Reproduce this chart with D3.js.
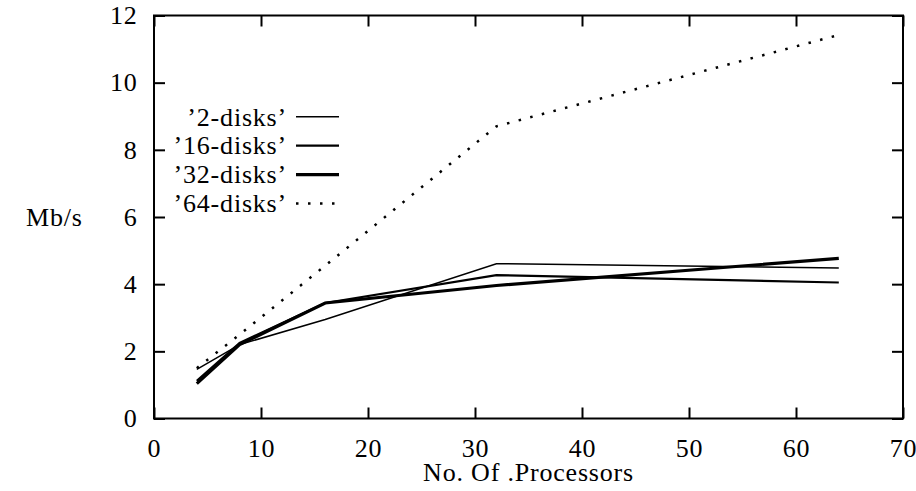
<!DOCTYPE html>
<html>
<head>
<meta charset="utf-8">
<script src="https://cdn.jsdelivr.net/npm/d3@7"></script>
<style>
  body { margin: 0; background: #fff; }
  text { font-family: "Liberation Serif", serif; font-size: 26px; letter-spacing: 0.8px; fill: #000; }
</style>
</head>
<body>
<div id="chart"></div>
<script>

// values
var processors = [4, 8, 16, 32, 64];
var disks2  = [1.46, 2.2, 2.95, 4.61, 4.48];
var disks16 = [1.12, 2.25, 3.44, 4.27, 4.05];
var disks32 = [1.04, 2.2, 3.44, 3.96, 4.77];
var disks64 = [1.5, 2.5, 4.55, 8.7, 11.42];

var seriesNames = ["\u20192-disks\u2019", "\u201916-disks\u2019", "\u201932-disks\u2019", "\u201964-disks\u2019"];
var xTicks = [0, 10, 20, 30, 40, 50, 60, 70];
var yTicks = [0, 2, 4, 6, 8, 10, 12];

var svgWidth = 916,
    svgHeight = 491;

var svg = d3.select("#chart").append("svg")
  .attr("width", svgWidth)
  .attr("height", svgHeight);

svg.append("rect")
  .attr("width", svgWidth)
  .attr("height", svgHeight)
  .attr("fill", "#fff");

// plot box (note: "top" is taken by window.top, so prefix these)
var plotLeft = 154, plotRight = 903, plotTop = 15.5, plotBottom = 418.5;

var x = d3.scaleLinear().domain([0, 70]).range([plotLeft, plotRight]);
var y = d3.scaleLinear().domain([0, 12]).range([plotBottom, plotTop]);

var tickLen = 11;

// ticks point inwards on all four sides, like gnuplot
svg.append("g")
  .attr("transform", "translate(0," + plotBottom + ")")
  .call(d3.axisBottom(x).tickValues(xTicks).tickSizeInner(-tickLen).tickSizeOuter(0).tickPadding(20.5));

svg.append("g")
  .attr("transform", "translate(" + plotLeft + ",0)")
  .call(d3.axisLeft(y).tickValues(yTicks).tickSizeInner(-tickLen).tickSizeOuter(0).tickPadding(16.5));

svg.append("g")
  .attr("transform", "translate(0," + plotTop + ")")
  .call(d3.axisTop(x).tickValues(xTicks).tickSizeInner(-tickLen).tickSizeOuter(0).tickFormat(""));

svg.append("g")
  .attr("transform", "translate(" + plotRight + ",0)")
  .call(d3.axisRight(y).tickValues(yTicks).tickSizeInner(-tickLen).tickSizeOuter(0).tickFormat(""));

svg.selectAll(".domain").remove();
svg.selectAll(".tick line").attr("stroke", "#000").attr("stroke-width", 2);
svg.selectAll(".tick text")
  .style("font-family", "Liberation Serif, serif")
  .style("font-size", "26px")
  .attr("fill", "#000");

svg.append("rect")
  .attr("x", plotLeft)
  .attr("y", plotTop)
  .attr("width", plotRight - plotLeft)
  .attr("height", plotBottom - plotTop)
  .attr("fill", "none")
  .attr("stroke", "#000")
  .attr("stroke-width", 2);

// axis titles
svg.append("text")
  .attr("x", (plotLeft + plotRight) / 2)
  .attr("y", 481)
  .attr("text-anchor", "middle")
  .text("No. Of .Processors");

svg.append("text")
  .attr("x", 26)
  .attr("y", 226)
  .text("Mb/s");

// series
var series = [
  {name: seriesNames[0], values: disks2,  width: 1.5, dash: null},
  {name: seriesNames[1], values: disks16, width: 2.2, dash: null},
  {name: seriesNames[2], values: disks32, width: 3.2, dash: null},
  {name: seriesNames[3], values: disks64, width: 2.5, dash: "2.5,9.5"}
];

var line = d3.line()
  .x(function(d, i) { return x(processors[i]); })
  .y(function(d) { return y(d); });

svg.append("g")
  .selectAll("path")
  .data(series)
  .enter()
  .append("path")
  .attr("d", function(d) { return line(d.values); })
  .attr("fill", "none")
  .attr("stroke", "#000")
  .attr("stroke-width", function(d) { return d.width; })
  .attr("stroke-dasharray", function(d) { return d.dash; })
  .attr("stroke-linejoin", "miter");

// legend
var legendRight = 287, sampleX0 = 296, sampleX1 = 339;
var legendY = d3.scalePoint().domain(seriesNames).range([116.7, 203.5]);

var legend = svg.append("g")
  .selectAll("g")
  .data(series)
  .enter()
  .append("g")
  .attr("transform", function(d) { return "translate(0," + legendY(d.name) + ")"; });

legend.append("text")
  .attr("x", legendRight)
  .attr("dy", "0.34em")
  .attr("text-anchor", "end")
  .text(function(d) { return d.name; });

legend.append("line")
  .attr("x1", sampleX0)
  .attr("x2", sampleX1)
  .attr("stroke", "#000")
  .attr("stroke-width", function(d) { return d.width; })
  .attr("stroke-dasharray", function(d) { return d.dash; });

</script>
</body>
</html>
